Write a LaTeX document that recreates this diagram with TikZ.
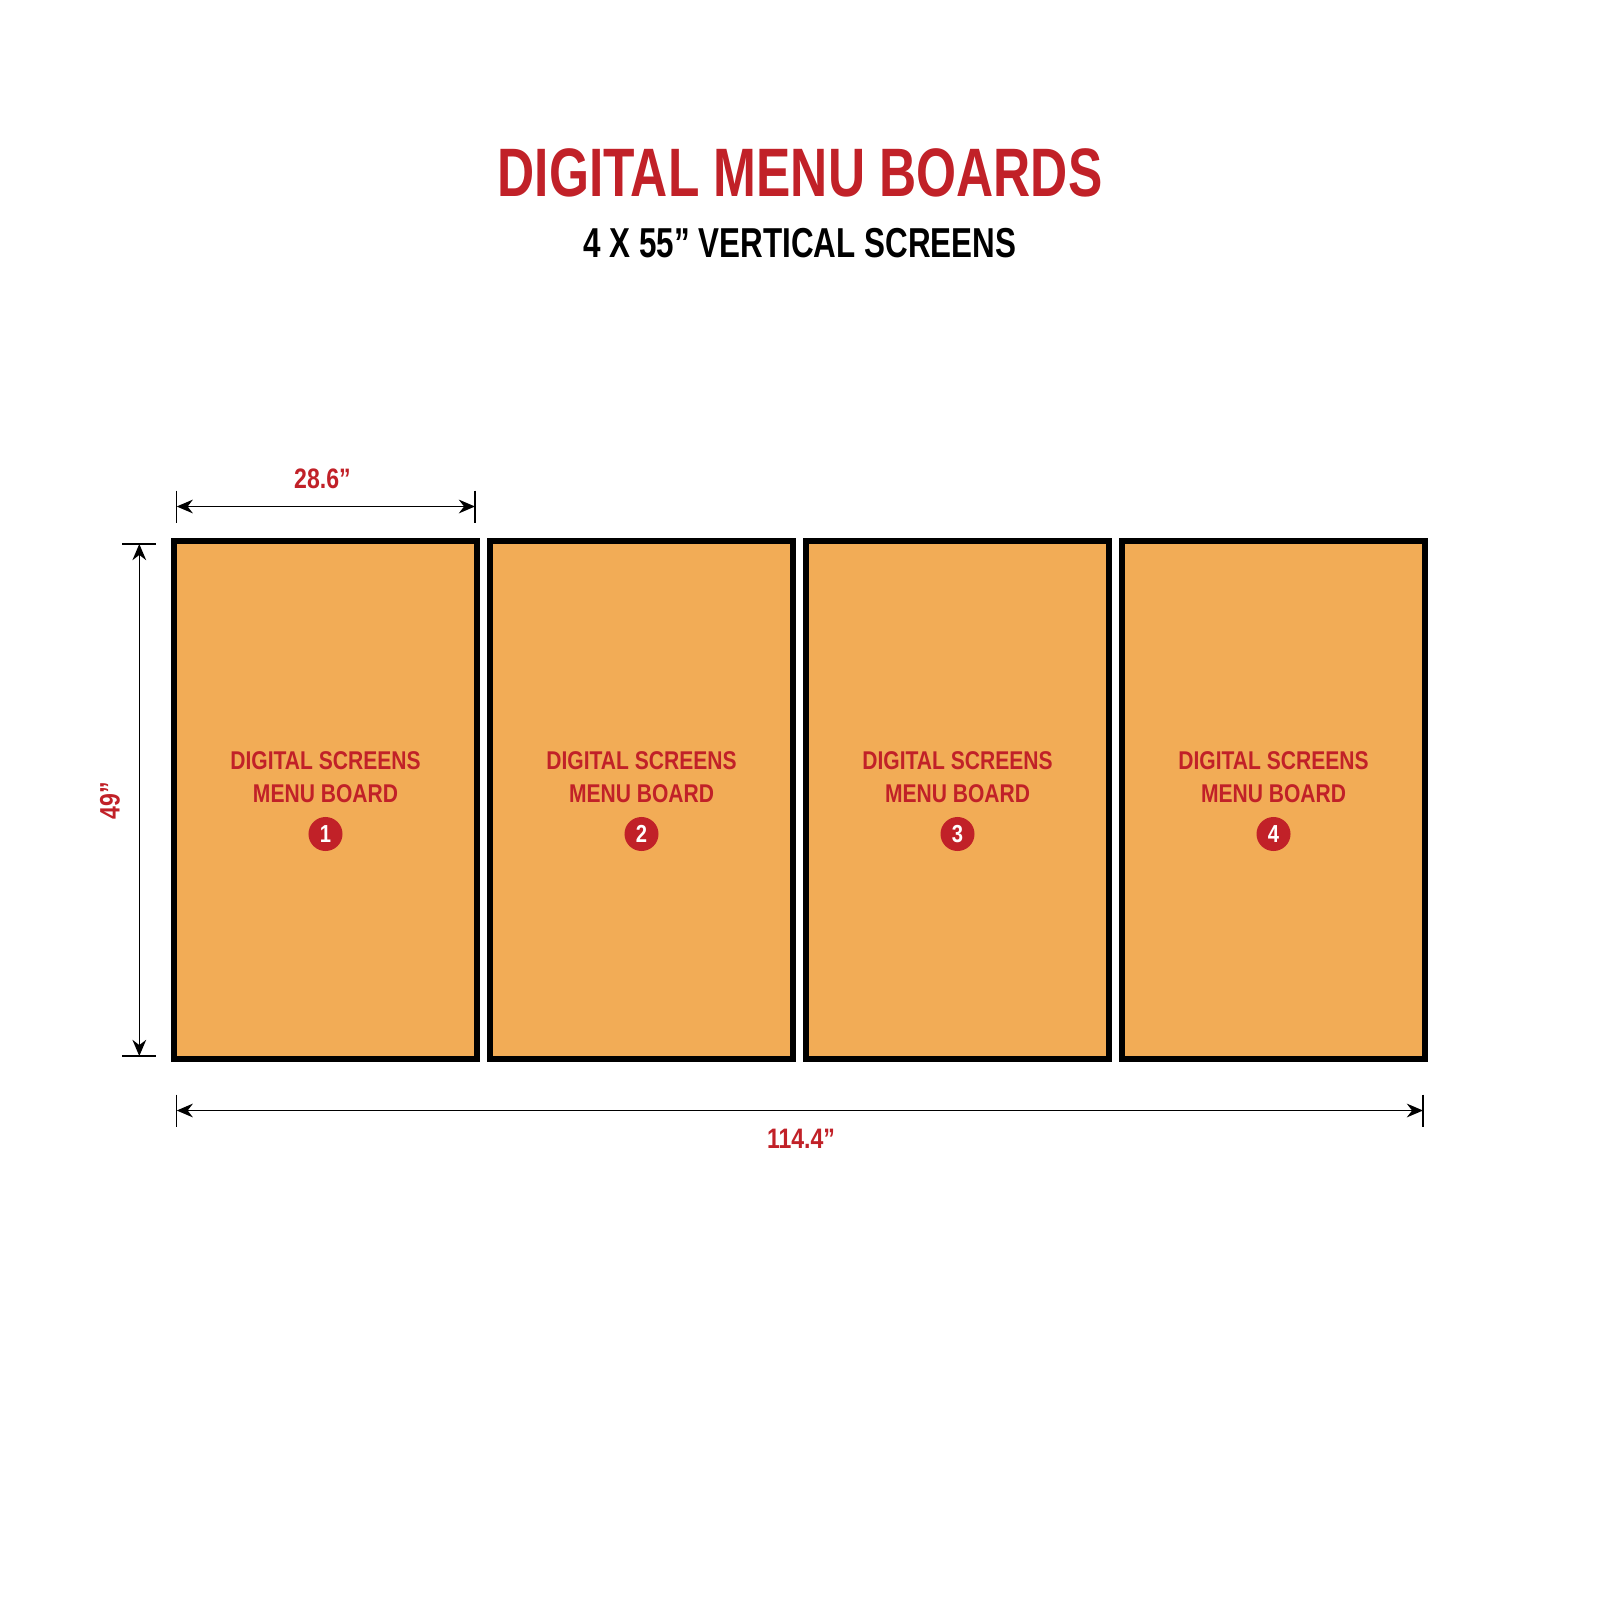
\documentclass[tikz,border=0pt]{standalone}
\usepackage{fontspec}
\usepackage{tikz}
\usetikzlibrary{arrows.meta,positioning}
\newfontfamily\titlefont{Liberation Sans}[FakeStretch=0.75]
\newfontfamily\labelfont{Liberation Sans}[FakeStretch=0.82]
\definecolor{menured}{RGB}{193,33,40}
\definecolor{screenorange}{RGB}{242,172,86}

\begin{document}
\begin{tikzpicture}[
    x=0.01cm, y=-0.01cm,
    screen/.style={rectangle, draw=black, fill=screenorange, line width=1.7pt, minimum width=3.03cm, minimum height=5.18cm, inner sep=0pt},
    screentext/.style={align=center, text=menured, inner sep=0pt, font=\labelfont\bfseries\fontsize{7.3}{9.4}\selectfont},
    badge/.style={circle, fill=menured, minimum size=0.34cm, inner sep=0pt, text=white, font=\labelfont\bfseries\fontsize{7}{7}\selectfont},
    dimarrow/.style={line width=0.45pt, {Stealth[length=4.6pt,width=3.9pt]}-{Stealth[length=4.6pt,width=3.9pt]}},
    dimtick/.style={line width=0.45pt},
    dimlabel/.style={text=menured, inner sep=0pt, font=\labelfont\bfseries\fontsize{8}{8}\selectfont},
]

\fill[white] (0,0) rectangle (1600,1600);
\useasboundingbox (0,0) rectangle (1600,1600);

% Heading
\node[text=menured, inner sep=0pt, font=\titlefont\bfseries\fontsize{19.5}{20}\selectfont] (title) at (800,172.5) {DIGITAL MENU BOARDS};
\node[inner sep=0pt, font=\titlefont\bfseries\fontsize{11.9}{12}\selectfont, below=0.3cm of title] (subtitle) {4 X 55” VERTICAL SCREENS};

% Screens
\foreach \i in {1,...,4} {
    \node[screen] (s\i) at ({325.5+316*(\i-1)},800) {};
    \node[screentext] (t\i) at ({325.5+316*(\i-1)},777.5) {DIGITAL SCREENS\\MENU BOARD};
    \node[badge] (b\i) at ({325.5+316*(\i-1)},834) {\i};
}

% Width of one screen
\coordinate (wl) at (176.7,506.5);
\coordinate (wr) at (475,506.5);
\draw[dimtick] (wl) ++(0,-16) -- ++(0,32);
\draw[dimtick] (wr) ++(0,-16) -- ++(0,32);
\draw[dimarrow] (wl) -- (wr);
\node[dimlabel] (wlabel) at (322.4,478.6) {28.6”};

% Height
\coordinate (ht) at (139.3,544);
\coordinate (hb) at (139.3,1056);
\draw[dimtick] (ht) ++(-17,0) -- ++(34,0);
\draw[dimtick] (hb) ++(-17,0) -- ++(34,0);
\draw[dimarrow] (ht) -- (hb);
\node[dimlabel, rotate=90] (hlabel) at (110,801) {49”};

% Total width
\coordinate (bl) at (176.7,1110.5);
\coordinate (br) at (1423,1110.5);
\draw[dimtick] (bl) ++(0,-16) -- ++(0,32);
\draw[dimtick] (br) ++(0,-16) -- ++(0,32);
\draw[dimarrow] (bl) -- (br);
\node[dimlabel] (blabel) at (801,1139) {114.4”};

\end{tikzpicture}
\end{document}
